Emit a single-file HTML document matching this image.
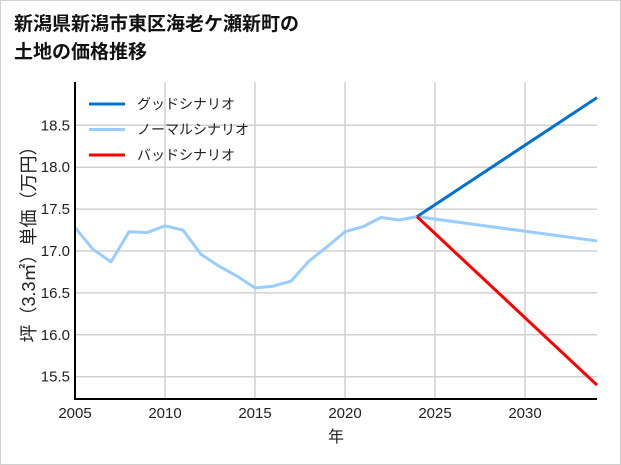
<!DOCTYPE html>
<html><head><meta charset="utf-8"><style>
body{margin:0;background:#fff}
#c{position:relative;width:619px;height:463px;border:1px solid #d0d0d0;background:#fff}
text{font-family:"Liberation Sans","Noto Sans CJK JP",sans-serif}
</style></head><body>
<div id="c">
<svg width="621" height="465" style="position:absolute;left:-1px;top:-1px">
<text x="14" y="30" font-size="19" font-weight="bold" fill="#111">新潟県新潟市東区海老ケ瀬新町の</text>
<text x="14" y="58" font-size="19" font-weight="bold" fill="#111">土地の価格推移</text>
<g id="grid"></g>
<g id="lines"></g>
<line x1="75" y1="82" x2="75" y2="400" stroke="#000" stroke-width="2"/>
<line x1="74" y1="399" x2="597" y2="399" stroke="#000" stroke-width="2"/>
<g id="ticks"></g>
<text x="336" y="442" font-size="16" text-anchor="middle" fill="#222">年</text>
<text transform="translate(35,240) rotate(-90)" font-size="18" text-anchor="middle" fill="#222">坪（3.3㎡）単価（万円）</text>
<g id="legend"></g>
</svg>
</div>
<script>
const years=[2005,2006,2007,2008,2009,2010,2011,2012,2013,2014,2015,2016,2017,2018,2019,2020,2021,2022,2023,2024];
const history=[17.28,17.02,16.87,17.23,17.22,17.30,17.25,16.96,16.82,16.70,16.56,16.58,16.64,16.88,17.05,17.23,17.29,17.40,17.37,17.41];
const scenarioYears=[2024,2034];
const goodVals=[17.41,18.83];
const normalVals=[17.41,17.12];
const badVals=[17.41,15.40];
const xTicks=[2005,2010,2015,2020,2025,2030];
const yTicks=[15.5,16.0,16.5,17.0,17.5,18.0,18.5];
const names=['グッドシナリオ','ノーマルシナリオ','バッドシナリオ'];
const colors=['#0072cf','#99ccff','#ff0000'];
const X=v=>75+(v-2005)*18;
const Y=v=>251-(v-17)*83.8;
const NS='http://www.w3.org/2000/svg';
function mk(t,a,p){const e=document.createElementNS(NS,t);for(const k in a)e.setAttribute(k,a[k]);p.appendChild(e);return e;}
const grid=document.getElementById('grid'),ticks=document.getElementById('ticks'),lines=document.getElementById('lines'),leg=document.getElementById('legend');
xTicks.forEach(t=>{
 const l=mk('line',{x1:X(t),x2:X(t),y1:82,y2:399,stroke:'#d0d0d0','stroke-width':1.5},grid);
 
 
 const tx=mk('text',{x:X(t),y:418,'font-size':15,'text-anchor':'middle',fill:'#222'},ticks);tx.textContent=t;
 
 
});
yTicks.forEach(t=>{
 const l=mk('line',{x1:75,x2:597,y1:Y(t),y2:Y(t),stroke:'#d0d0d0','stroke-width':1.5},grid);
 
 
 const tx=mk('text',{x:70,y:Y(t)+5,'font-size':15,'text-anchor':'end',fill:'#222'},ticks);tx.textContent=t.toFixed(1);
 
 
});
function pl(xs,ys,c,name){const p=mk('polyline',{points:xs.map((x,i)=>X(x)+','+Y(ys[i])).join(' '),fill:'none',stroke:c,'stroke-width':3,'stroke-linejoin':'round'},lines);
 
 }
pl(years,history,colors[1],'history-line');
pl(scenarioYears,normalVals,colors[1],'normal-scenario-line');
pl(scenarioYears,goodVals,colors[0],'good-scenario-line');
pl(scenarioYears,badVals,colors[2],'bad-scenario-line');
names.forEach((n,i)=>{
 const y=104+i*25.5;
 const l=mk('line',{x1:89,x2:125,y1:y,y2:y,stroke:colors[i],'stroke-width':3},leg);
 
 
 const t=mk('text',{x:137,y:y+5,'font-size':14,fill:'#222'},leg);t.textContent=n;
 
 
});
</script>
</body></html>
